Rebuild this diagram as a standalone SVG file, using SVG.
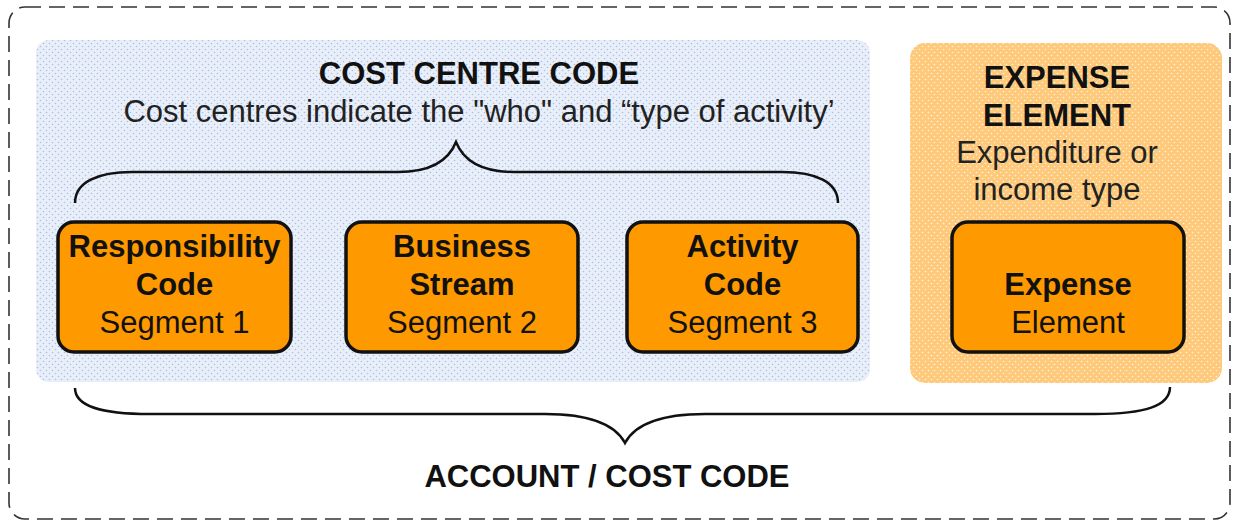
<svg xmlns="http://www.w3.org/2000/svg" width="1234" height="520" viewBox="0 0 1234 520">
<defs>
<pattern id="dotsBlue" width="6" height="6" patternUnits="userSpaceOnUse">
<rect width="6" height="6" fill="#e9eff9"/>
<circle cx="1.5" cy="1.5" r="0.8" fill="#a9bfe8"/>
<circle cx="4.5" cy="4.5" r="0.8" fill="#a9bfe8"/>
</pattern>
<pattern id="dotsOrange" width="6" height="6" patternUnits="userSpaceOnUse">
<rect width="6" height="6" fill="#fec97a"/>
<circle cx="1.5" cy="1.5" r="0.8" fill="#fff4e0"/>
<circle cx="4.5" cy="4.5" r="0.8" fill="#fff4e0"/>
</pattern>
</defs>
<style>
text { font-family: "Liberation Sans", Arial, sans-serif; font-size: 31px; fill: #111; text-anchor: middle; }
.b { font-weight: bold; }
.sub { fill: #222; }
.box { fill: #ff9900; stroke: #111; stroke-width: 3.5; }
.brace { fill: none; stroke: #111; stroke-width: 2.5; stroke-linejoin: miter; }
</style>
<rect id="frame" x="9" y="7" width="1221" height="512" rx="16" fill="none" stroke="#333" stroke-width="1.6" stroke-dasharray="16 8"/>
<g id="cost-centre-panel">
<rect x="36" y="40" width="834" height="342" rx="13" fill="url(#dotsBlue)"/>
<text class="b" x="479" y="84">COST CENTRE CODE</text>
<text class="sub" x="479" y="122">Cost centres indicate the "who" and “type of activity’</text>
</g>
<g id="expense-panel">
<rect x="910" y="43" width="312" height="340" rx="15" fill="url(#dotsOrange)"/>
<text class="b" x="1057" y="88">EXPENSE</text>
<text class="b" x="1057" y="126">ELEMENT</text>
<text class="sub" x="1057" y="163">Expenditure or</text>
<text class="sub" x="1057" y="200">income type</text>
</g>
<g id="responsibility-code">
<rect class="box" x="58" y="222" width="233" height="130" rx="16"/>
<text class="b" x="174.5" y="257">Responsibility</text>
<text class="b" x="174.5" y="295">Code</text>
<text x="174.5" y="333">Segment 1</text>
</g>
<g id="business-stream">
<rect class="box" x="346" y="222" width="232" height="130" rx="16"/>
<text class="b" x="462" y="257">Business</text>
<text class="b" x="462" y="295">Stream</text>
<text x="462" y="333">Segment 2</text>
</g>
<g id="activity-code">
<rect class="box" x="627" y="222" width="231" height="130" rx="16"/>
<text class="b" x="742.5" y="257">Activity</text>
<text class="b" x="742.5" y="295">Code</text>
<text x="742.5" y="333">Segment 3</text>
</g>
<g id="expense-element">
<rect class="box" x="952" y="222" width="232" height="130" rx="16"/>
<text class="b" x="1068" y="295">Expense</text>
<text x="1068" y="333">Element</text>
</g>
<g id="connectors">
<path class="brace" d="M75,203 C75,182 98,172 132,172 L398,172 C428,172 448,162 456,142 C464,162 484,172 514,172 L782,172 C816,172 838,182 838,203"/>
<path class="brace" d="M75,388 C75,406 100,414 150,414 L545,414 C590,414 615,424 625,443 C635,424 660,414 705,414 L1095,414 C1145,414 1170,406 1170,387"/>
</g>
<g id="account-label">
<text class="b" x="607" y="487">ACCOUNT / COST CODE</text>
</g>
</svg>
